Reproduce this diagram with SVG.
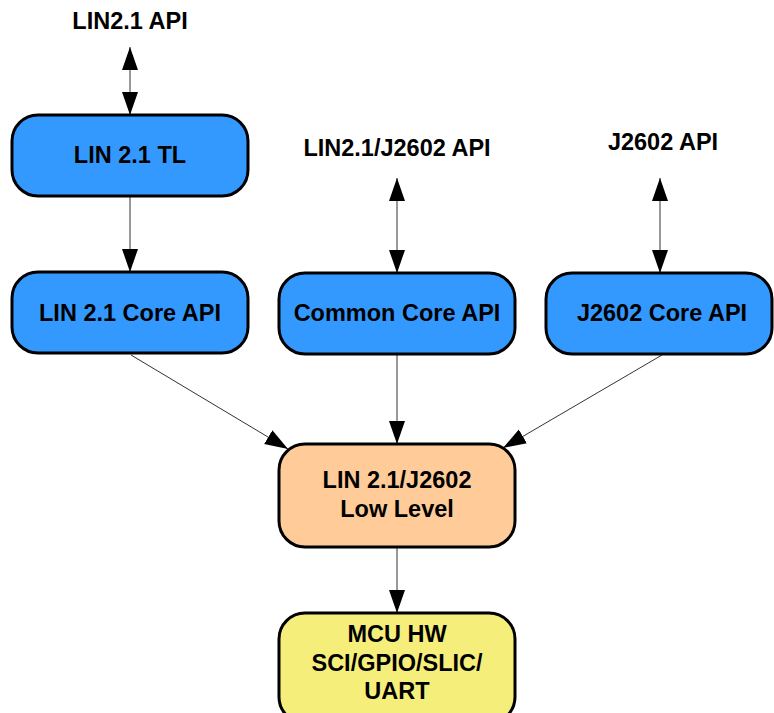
<svg xmlns="http://www.w3.org/2000/svg" width="774" height="713" viewBox="0 0 774 713">
<style>
.box{stroke:#000;stroke-width:3}
.blue{fill:#3399FF}
.orange{fill:#FFCC99}
.yellow{fill:#F6EE7A}
text{font-family:"Liberation Sans",Arial,sans-serif;font-weight:bold;font-size:23.5px;fill:#000;text-anchor:middle}
.c{stroke:#333;stroke-width:1;fill:none}
</style>
<defs>
<marker id="ah" markerUnits="userSpaceOnUse" markerWidth="24" markerHeight="18" refX="23" refY="8" orient="auto-start-reverse">
<path d="M0,0 L23,8 L0,16 Z" fill="#000"/>
</marker>
</defs>
<rect width="774" height="713" fill="#fff"/>
<g id="connectors">
<line class="c" x1="130" y1="47" x2="130" y2="115" marker-start="url(#ah)" marker-end="url(#ah)"/>
<line class="c" x1="130" y1="196" x2="130" y2="272" marker-end="url(#ah)"/>
<line class="c" x1="397" y1="178" x2="397" y2="273" marker-start="url(#ah)" marker-end="url(#ah)"/>
<line class="c" x1="660" y1="178" x2="660" y2="273" marker-start="url(#ah)" marker-end="url(#ah)"/>
<line class="c" x1="131" y1="355" x2="288" y2="449" marker-end="url(#ah)"/>
<line class="c" x1="397" y1="355" x2="397" y2="444" marker-end="url(#ah)"/>
<line class="c" x1="662" y1="355" x2="503" y2="448" marker-end="url(#ah)"/>
<line class="c" x1="397" y1="548" x2="397" y2="613" marker-end="url(#ah)"/>
</g>
<g id="lbl-lin21api"><text x="130" y="29">LIN2.1 API</text></g>
<g id="lbl-commonapi"><text x="397" y="156">LIN2.1/J2602 API</text></g>
<g id="lbl-j2602api"><text x="663" y="150">J2602 API</text></g>
<g id="lin21tl"><rect class="box blue" x="12" y="115" width="236" height="81" rx="26"/><text x="130" y="163">LIN 2.1 TL</text></g>
<g id="lin21core"><rect class="box blue" x="12" y="272" width="236" height="81" rx="26"/><text x="130" y="321">LIN 2.1 Core API</text></g>
<g id="commoncore"><rect class="box blue" x="279" y="273" width="236" height="81" rx="26"/><text x="397" y="321">Common Core API</text></g>
<g id="j2602core"><rect class="box blue" x="546" y="273" width="226" height="81" rx="26"/><text x="662" y="321">J2602 Core API</text></g>
<g id="lowlevel"><rect class="box orange" x="279" y="444" width="236" height="103" rx="26"/><text x="397" y="488">LIN 2.1/J2602</text><text x="397" y="517">Low Level</text></g>
<g id="mcuhw"><rect class="box yellow" x="279" y="613" width="236" height="110" rx="26"/><text x="397" y="642">MCU HW</text><text x="397" y="671">SCI/GPIO/SLIC/</text><text x="397" y="699">UART</text></g>
</svg>
